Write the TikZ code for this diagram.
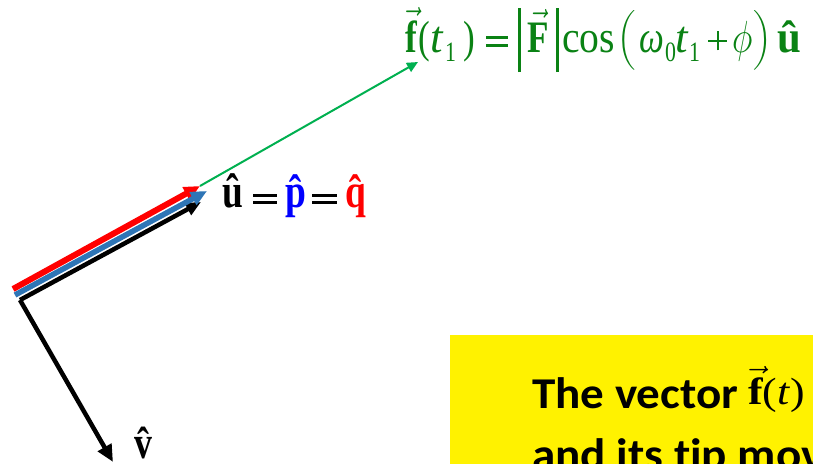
\RequirePackage{fix-cm}
\documentclass[tikz,border=0pt]{standalone}
\usepackage{amsmath}
\usepackage{fontspec}
\setmainfont{Liberation Serif}
\newfontfamily\calib[Ligatures=NoCommon]{Carlito}
\usetikzlibrary{arrows.meta}
\definecolor{eqgreen}{RGB}{10,130,20}
\definecolor{argreen}{RGB}{0,176,80}
\definecolor{arblue}{RGB}{46,117,182}
\newcommand\bvec[1]{\ensuremath{\vec{\hbox{\bfseries #1}}}}
\newcommand\sq[1]{\scalebox{0.78}[1]{#1}}
\newcommand\pc[2]{\makebox[#1][l]{\sq{#2}}}
\newcommand\pu[2]{\makebox[#1][l]{#2}}
\newcommand\subn[1]{\raisebox{-9pt}{\fontsize{28}{30}\selectfont #1}}
\newcommand\lparen{$\left(\vrule height 42pt depth 16pt width 0pt\right.$}
\newcommand\rparen{$\left.\vrule height 42pt depth 16pt width 0pt\right)$}
\newcommand\vbar{\rule[-20pt]{2.5pt}{64pt}}
% equals sign from two bars: box width, bar length, raise of upper, raise of lower
\newcommand\eqbars[4]{\makebox[#1][l]{\rlap{\rule[#3]{#2}{2.6pt}}\rule[#4]{#2}{2.6pt}}}
\newcommand\plusbars{\makebox[25pt][l]{\hspace{1pt}\rlap{\rule[10pt]{19pt}{2.4pt}}\hspace{8.3pt}\rule[1.7pt]{2.4pt}{19pt}}}
\tikzset{
  vtip/.style 2 args={-{Triangle[length=#1,width=#2]}},
  lbl/.style={anchor=base west, inner sep=0pt},
}
\begin{document}
\begin{tikzpicture}[x=1pt,y=-1pt]
\useasboundingbox (0,0) rectangle (813,463);
\clip (0,0) rectangle (813,463);
\fill[white] (0,0) rectangle (813,463);
% yellow box
\fill[yellow] (450,335) rectangle (830,480);
% coordinates
\coordinate (o) at (20,300);
\coordinate (ob) at (15,295);
\coordinate (or) at (13,289);
\coordinate (ut) at (201,202);
\coordinate (bt) at (207,191);
\coordinate (rt) at (200,186);
\coordinate (ft) at (418,62);
\coordinate (vt) at (113,462);
% green vector
\draw[argreen, line width=2pt, vtip={11pt}{10pt}] (rt) -- (ft);
% vectors
\draw[red, line width=6pt, vtip={16pt}{14pt}] (or) -- (rt);
\draw[black, line width=4.5pt, vtip={15pt}{13pt}] (o) -- (ut);
\draw[arblue, line width=5.5pt, vtip={16pt}{14pt}] (ob) -- (bt);
\draw[black, line width=4.5pt, vtip={17pt}{15pt}] (o) -- (vt);
% top equation
\node[lbl, text=eqgreen, font=\fontsize{45}{50}\selectfont] (feq) at (405,52)
 {\pc{13pt}{\bvec{f}}\pc{12pt}{(}\pu{15pt}{\textit{t}}\pc{18pt}{\subn{1}}\pc{23pt}{)}%
  \eqbars{32pt}{22pt}{13pt}{5.5pt}\pu{9pt}{\vbar}\pc{29pt}{\bvec{F}}\pu{6pt}{\vbar}%
  \pu{55pt}{\scalebox{0.88}[1]{cos}}\pu{22pt}{\lparen}%
  \pc{26pt}{\textit{ω}}\pc{10pt}{\subn{0}}\pu{14pt}{\textit{t}}\pc{18pt}{\subn{1}}%
  \plusbars\pc{20pt}{$\phi$}\pu{25pt}{\rparen}\scalebox{0.95}[1]{\bfseries û}};
% u = p = q
\node[lbl, font=\fontsize{48}{52}\selectfont\bfseries] (upq) at (222,207)
 {\pc{31pt}{û}\eqbars{32pt}{24pt}{10pt}{3pt}\pc{27pt}{\textcolor{blue}{\^{p}}}%
  \eqbars{33pt}{25pt}{10pt}{3pt}\sq{\textcolor{red}{\^{q}}}};
% v hat
\node[lbl, font=\fontsize{46}{50}\selectfont\bfseries] (vlab) at (134,458) {\sq{\^{v}}};
% yellow text
\node[lbl] (t1) at (532,408)
 {\scalebox{1.07}[1]{\calib\bfseries\fontsize{44}{50}\selectfont The vector}};
\node[lbl, font=\fontsize{38}{40}\selectfont] (t1f) at (748,404)
 {\scalebox{1.15}[1]{\bvec{f}(\textit{t})}};
\node[lbl] (t2) at (532,469)
 {\scalebox{1.07}[1]{\calib\bfseries\fontsize{44}{50}\selectfont and its tip moves}};
\end{tikzpicture}
\end{document}
